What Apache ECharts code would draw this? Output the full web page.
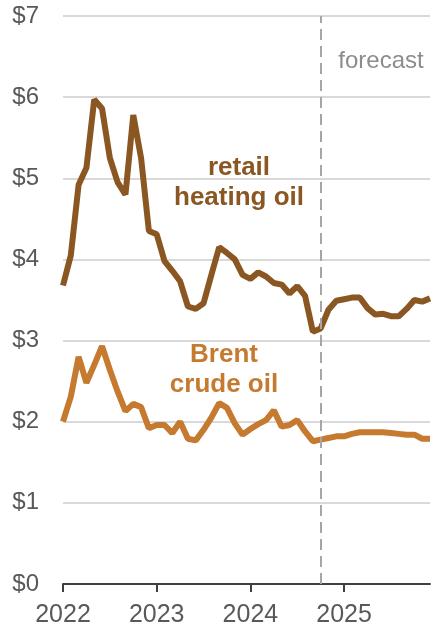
<!DOCTYPE html>
<html>
<head>
<meta charset="utf-8">
<script src="https://cdn.jsdelivr.net/npm/echarts@6/dist/echarts.min.js"></script>
<style>
  html, body { margin: 0; padding: 0; background: #fff; }
  #chart { width: 433px; height: 629px; }
</style>
</head>
<body>
<div id="chart"></div>
<script>
// monthly, Jan 2022 .. Dec 2025
const years = ['2022', '2023', '2024', '2025'];
const months = [];
years.forEach(y => { for (let m = 1; m <= 12; m++) months.push(y + '-' + (m < 10 ? '0' + m : m)); });

const heatingOil = [
  3.68, 4.05, 4.92, 5.13, 5.97, 5.86, 5.25, 4.95, 4.80, 5.78, 5.25, 4.35,
  4.31, 3.98, 3.86, 3.73, 3.42, 3.39, 3.46, 3.81, 4.15, 4.08, 4.00, 3.81,
  3.76, 3.84, 3.79, 3.71, 3.69, 3.58, 3.67, 3.55, 3.11, 3.15, 3.38, 3.49,
  3.51, 3.53, 3.53, 3.40, 3.32, 3.33, 3.30, 3.30, 3.39, 3.50, 3.48, 3.52
];
const brent = [
  2.00, 2.31, 2.80, 2.48, 2.70, 2.93, 2.64, 2.37, 2.13, 2.22, 2.18, 1.92,
  1.96, 1.96, 1.86, 2.00, 1.79, 1.77, 1.90, 2.05, 2.23, 2.17, 1.98, 1.84,
  1.91, 1.97, 2.02, 2.14, 1.94, 1.96, 2.02, 1.88, 1.76, 1.78, 1.80, 1.82,
  1.82, 1.85, 1.87, 1.87, 1.87, 1.87, 1.86, 1.85, 1.84, 1.84, 1.79, 1.79
];
const forecastStart = '2024-10';
const yTicks = [0, 1, 2, 3, 4, 5, 6, 7];

const heatColor = '#8a5722';
const brentColor = '#c57a30';
const font = '"Liberation Sans", Arial, sans-serif';

const chart = echarts.init(document.getElementById('chart'));

chart.setOption({
  animation: false,
  grid: { left: 63, right: 3, top: 16, bottom: 45 },
  xAxis: {
    type: 'category',
    data: months,
    boundaryGap: false,
    axisLine: { lineStyle: { color: '#404040', width: 2 } },
    axisTick: {
      alignWithLabel: true,
      length: 8,
      lineStyle: { color: '#404040', width: 2 },
      interval: (i, v) => v.endsWith('-01')
    },
    axisLabel: {
      interval: (i, v) => v.endsWith('-01'),
      formatter: v => v.slice(0, 4),
      color: '#595959',
      fontFamily: font,
      fontSize: 25,
      margin: 19
    },
    splitLine: { show: false }
  },
  yAxis: {
    type: 'value',
    min: yTicks[0],
    max: yTicks[yTicks.length - 1],
    interval: 1,
    axisLine: { show: false },
    axisTick: { show: false },
    axisLabel: {
      formatter: v => '$' + v,
      color: '#595959',
      fontFamily: font,
      fontSize: 24,
      margin: 24
    },
    splitLine: { lineStyle: { color: '#d9d9d9', width: 2 } }
  },
  series: [
    {
      name: 'retail heating oil',
      type: 'line',
      data: heatingOil,
      symbol: 'none',
      lineStyle: { color: heatColor, width: 6 },
      markLine: {
        silent: true,
        symbol: 'none',
        label: { show: false },
        lineStyle: { color: '#a6a6a6', type: [11, 6], width: 2 },
        data: [{ xAxis: forecastStart }]
      }
    },
    {
      name: 'Brent crude oil',
      type: 'line',
      data: brent,
      symbol: 'none',
      lineStyle: { color: brentColor, width: 6 }
    }
  ],
  graphic: [
    {
      type: 'text', x: 381, y: 61,
      style: {
        text: 'forecast', fill: '#8c8c8c', font: '24px ' + font,
        align: 'center', verticalAlign: 'middle'
      }
    },
    {
      type: 'text', x: 239, y: 183,
      style: {
        text: 'retail\nheating oil', fill: heatColor, font: 'bold 26px ' + font,
        align: 'center', verticalAlign: 'middle', lineHeight: 30
      }
    },
    {
      type: 'text', x: 224, y: 370,
      style: {
        text: 'Brent\ncrude oil', fill: brentColor, font: 'bold 26px ' + font,
        align: 'center', verticalAlign: 'middle', lineHeight: 30
      }
    }
  ]
});
</script>
</body>
</html>
